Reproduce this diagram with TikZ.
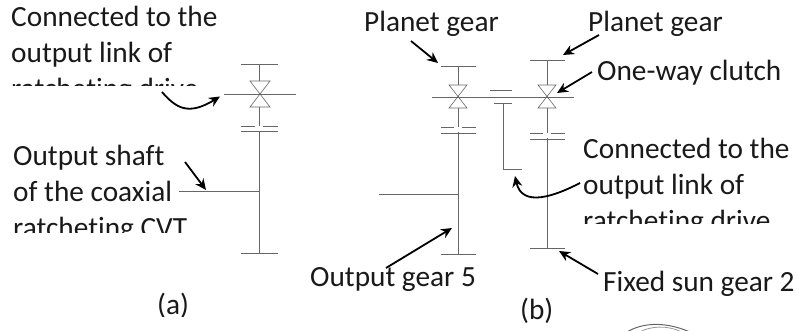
\documentclass[tikz,border=0pt]{standalone}
\usepackage{fontspec}
\setmainfont[Ligatures=NoCommon]{Carlito}
\usetikzlibrary{arrows.meta}
\tikzset{
 x=1pt,y=-1pt,
 lbl/.style={inner sep=0pt,anchor=base west,font=\fontsize{29.3}{29}\selectfont,text=black!90},
 mech/.style={draw=black!60,line width=0.9pt},
 clutch/.style={draw=black!60,line width=0.6pt,fill=white},
 call/.style={draw=black,line width=1.8pt,-{Stealth[length=11pt,width=10pt]}},
}
\begin{document}
\begin{tikzpicture}
\useasboundingbox (0,0) rectangle (796,331);
% (a)
\draw[mech] (241,64) -- (278,64);
\draw[mech] (259,64) -- (259,253);
\draw[clutch] (250,81) -- (270,81) -- (250,107) -- (270,107) -- cycle;
\draw[mech] (224,94.500) -- (296,94.500);
\draw[mech] (241,126) -- (278,126);
\draw[mech] (241,131.500) -- (278,131.500);
\fill[white] (255,126.500) rectangle (263,131);
\draw[mech] (179,191) -- (259,191);
\draw[mech] (241,253) -- (278,253);
% (b) left
\draw[mech] (441,66) -- (476,66);
\draw[mech] (458,66) -- (458,254);
\draw[clutch] (449,85) -- (467,85) -- (449,108) -- (467,108) -- cycle;
\draw[mech] (432,97) -- (545,97);
\draw[mech] (441,127) -- (476,127);
\draw[mech] (441,133) -- (476,133);
\fill[white] (454,127.500) rectangle (462,132.500);
\draw[mech] (379,194) -- (458,194);
\draw[mech] (441,254) -- (476,254);
% carrier
\draw[mech] (490,90) -- (512,90);
\draw[mech] (494,103) -- (512,103);
\draw[mech] (503,103) -- (503,169.500) -- (522,169.500);
% (b) right
\draw[mech] (530,60) -- (565,60);
\draw[mech] (547,60) -- (547,248);
\draw[clutch] (538,85) -- (556,85) -- (538,108) -- (556,108) -- cycle;
\draw[mech] (545,97) -- (574,97);
\draw[mech] (530,133) -- (565,133);
\draw[mech] (530,139) -- (565,139);
\fill[white] (543,133.500) rectangle (551,138.500);
\draw[mech] (530,248) -- (565,248);
% clipped labels
\begin{scope}
\clip (0,0) rectangle (300,86);
\node[lbl] (t1) at (11,27) {Connected to the};
\node[lbl] (t2) at (11,63) {output link of};
\node[lbl] (t3) at (11,99) {ratcheting drive};
\end{scope}
\begin{scope}
\clip (0,100) rectangle (300,233);
\node[lbl] (t4) at (13,166) {Output shaft};
\node[lbl] (t5) at (13,202) {of the coaxial};
\node[lbl] (t6) at (13,238) {ratcheting CVT};
\end{scope}
\begin{scope}
\clip (560,130) rectangle (796,224);
\node[lbl] (t7) at (583,159) {Connected to the};
\node[lbl] (t8) at (583,195) {output link of};
\node[lbl] (t9) at (583,231) {ratcheting drive};
\end{scope}
\begin{scope}
\clip (140,290) rectangle (200,317);
\node[lbl] (a) at (157,315) {(a)};
\end{scope}
\begin{scope}
\clip (510,290) rectangle (560,323);
\node[lbl] (b) at (520,320) {(b)};
\end{scope}
\node[lbl] (pg1) at (364,32) {Planet gear};
\node[lbl] (pg2) at (588,32) {Planet gear};
\node[lbl] (owc) at (597,81) {One-way clutch};
\node[lbl] (og) at (310,287) {Output gear 5};
\node[lbl] (fs) at (603,292) {Fixed sun gear 2};
% callouts
\coordinate (c1s) at (162,92);
\coordinate (c1e) at (220,96.500);
\draw[call] (c1s) .. controls (176,108) and (188,116) .. (c1e);
\coordinate (c2s) at (185,162);
\coordinate (c2e) at (206,190);
\draw[call] (c2s) -- (c2e);
\coordinate (c3s) at (411,41);
\coordinate (c3e) at (438,63);
\draw[call] (c3s) -- (c3e);
\coordinate (c4s) at (386,268);
\coordinate (c4e) at (452,228);
\draw[call] (c4s) -- (c4e);
\coordinate (c5s) at (580,183);
\coordinate (c5e) at (515,176);
\draw[call] (c5s) .. controls (555,196) and (522,208) .. (c5e);
\coordinate (c6s) at (599,35);
\coordinate (c6e) at (563,55);
\draw[call] (c6s) -- (c6e);
\coordinate (c7s) at (592,72);
\coordinate (c7e) at (557,93);
\draw[call] (c7s) -- (c7e);
\coordinate (c8s) at (598,274);
\coordinate (c8e) at (559,251);
\draw[call] (c8s) -- (c8e);
% fragment at the lower edge
\draw[black!60,line width=1pt] (627,332) .. controls (640,324) and (662,320) .. (690,332);
\draw[black!40,line width=0.8pt] (640,332) .. controls (650,326) and (668,325) .. (682,332);
\end{tikzpicture}
\end{document}
